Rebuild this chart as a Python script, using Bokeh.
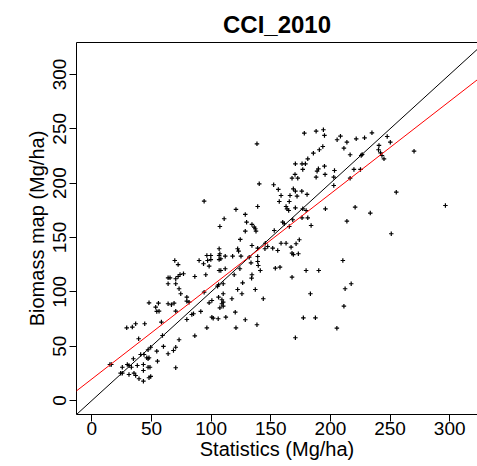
from bokeh.plotting import figure
from bokeh.models import Range1d, FixedTicker, LinearAxis, Slope, ColumnDataSource
from bokeh.embed import file_html
from bokeh.resources import INLINE

# ---- data (Statistics vs Biomass map, Mg/ha) ----
stats_a = [15.1, 16.3, 25.5, 24.1, 25.5, 29.7, 31.1, 33.1, 34.8, 40.9,
           43.7, 47.1, 46.0, 47.1, 47.9, 43.2, 38.1, 31.1, 35.3, 36.7,
           47.1, 48.7, 43.2, 39.5, 43.2, 47.9, 49.3, 70.3, 55.0, 54.4,
           49.3, 60.0, 63.9, 68.4, 70.3, 73.1, 39.2, 59.2, 29.2, 33.9,
           36.7, 44.3, 86.3, 58.3, 70.3, 47.9, 55.8, 53.5, 56.3, 54.4,
           63.9, 68.9, 66.7, 79.6, 79.6, 81.5, 79.6, 83.8, 85.2, 91.3,
           73.1, 74.5, 70.3, 63.9, 63.9, 65.5, 70.3, 72.3, 73.9, 76.8,
           69.5, 72.3, 86.3, 89.9, 93.6, 94.1, 95.5]
map_a = [33.1, 33.1, 30.6, 25.1, 25.1, 33.1, 32.2, 30.6, 38.4, 42.3,
         42.3, 46.7, 39.3, 38.4, 39.3, 33.1, 32.2, 23.9, 25.1, 23.0,
         30.6, 30.6, 27.6, 20.0, 17.8, 20.9, 22.1, 30.1, 36.2, 45.4,
         49.0, 49.7, 43.0, 46.0, 49.0, 55.9, 56.8, 59.8, 66.9, 67.5,
         70.6, 70.6, 59.5, 72.1, 82.2, 89.9, 89.5, 85.9, 82.2, 81.9,
         89.0, 89.5, 88.1, 95.1, 91.4, 90.5, 74.5, 79.1, 79.8, 81.9,
         102.8, 98.2, 107.4, 107.4, 112.9, 112.9, 112.0, 114.1, 115.9, 116.6,
         128.8, 125.1, 114.1, 128.8, 125.8, 99.7, 115.7]

stats_b = [96.4, 99.7, 106.7, 111.8, 118.0, 125.0, 131.9, 139.0, 97.0, 99.7,
           106.7, 108.1, 98.3, 106.7, 108.1, 111.8, 119.3, 139.0, 139.5, 133.4,
           124.1, 134.2, 141.2, 133.9, 153.8, 157.7, 167.8, 179.6, 190.2, 126.4,
           110.1, 106.2, 105.4, 122.2, 125.8, 137.0, 143.7, 110.1, 106.2, 117.4,
           98.3, 100.6, 109.0, 110.1, 109.0, 110.1, 107.3, 120.2, 100.6, 101.7,
           105.9, 112.3, 128.6, 183.2, 177.3, 187.4, 96.4, 120.8, 138.4, 170.6,
           210.4, 217.4, 212.3, 211.3, 205.4, 94.1]
map_b = [133.4, 133.4, 133.4, 132.8, 132.8, 132.8, 131.9, 132.5, 128.8, 129.7,
         129.7, 130.4, 123.6, 119.6, 119.6, 121.2, 115.7, 127.9, 124.2, 126.7,
         121.2, 115.7, 119.6, 112.5, 121.7, 122.7, 113.5, 119.6, 119.6, 108.3,
         107.4, 106.5, 105.2, 102.1, 98.2, 102.1, 93.6, 98.2, 95.1, 93.6,
         89.9, 92.0, 92.7, 90.5, 89.0, 86.8, 85.3, 81.3, 76.7, 75.7,
         75.2, 76.7, 74.3, 98.2, 76.1, 76.1, 66.9, 66.9, 69.7, 57.7,
         128.8, 107.4, 102.8, 86.8, 66.5, 183.4]

stats_c = [178.1, 188.0, 194.1, 195.0, 138.4, 193.6, 190.7, 185.7, 181.0, 170.6,
           176.2, 179.0, 176.8, 170.3, 167.8, 172.6, 188.8, 189.9, 188.0, 195.0,
           195.5, 140.3, 152.4, 156.3, 168.9, 170.6, 176.0, 158.6, 166.1, 172.0,
           180.4, 157.1, 165.5, 162.8, 163.6, 165.0, 170.6, 176.8, 179.6, 195.8,
           139.0, 120.8, 128.6, 110.9, 107.3, 129.7, 134.2, 136.1, 137.0, 137.6,
           128.6, 124.4, 152.9, 160.0, 161.3, 168.4, 176.2, 183.8, 165.5, 134.2,
           145.4, 147.4, 145.1, 151.6, 155.8, 158.6, 162.8, 167.0, 171.2, 173.9,
           167.8, 168.9, 106.7, 107.3, 122.2, 123.0, 139.0, 203.4, 202.8, 202.8,
           173.1, 181.0]
map_c = [246.0, 247.8, 249.1, 243.9, 236.2, 233.7, 230.7, 227.6, 222.4, 217.8,
         217.8, 217.8, 212.6, 208.0, 204.6, 204.6, 211.0, 213.2, 205.5, 215.6,
         208.0, 199.4, 198.5, 194.2, 194.8, 192.6, 192.6, 188.6, 188.6, 188.0,
         189.6, 183.1, 183.1, 178.5, 176.4, 174.8, 177.3, 176.4, 174.8, 176.4,
         178.5, 175.8, 171.2, 167.2, 160.1, 164.1, 162.0, 159.5, 158.0, 155.8,
         155.8, 148.2, 156.4, 164.1, 162.6, 166.3, 168.1, 161.0, 160.1, 142.6,
         144.7, 141.7, 139.6, 140.1, 138.0, 144.7, 144.7, 141.1, 144.2, 147.9,
         135.5, 134.3, 139.6, 135.0, 139.6, 137.4, 140.1, 211.6, 205.5, 197.8,
         135.0, 168.1]

stats_d = [205.6, 208.4, 213.8, 211.3, 221.6, 228.6, 234.8, 247.6, 250.2, 240.7,
           240.3, 242.0, 243.2, 244.9, 225.8, 226.6, 216.5, 219.7, 225.2, 216.5,
           270.1, 255.2, 296.4, 220.7, 233.4, 213.8, 251.0]
map_d = [239.9, 243.2, 237.7, 232.2, 240.8, 241.7, 246.3, 242.9, 237.7, 234.7,
         230.7, 227.9, 225.4, 222.4, 225.4, 226.4, 226.1, 212.6, 212.6, 204.6,
         229.4, 191.7, 179.4, 177.9, 172.4, 165.0, 153.4]

tick_values = [0, 50, 100, 150, 200, 250, 300]
x_limits = (-12.9, 323.3)
y_limits = (-12.9, 329.4)

one_to_one = (0.0, 1.0)          # intercept, slope (black)
fit_line = (19.8, 0.852)         # intercept, slope (red regression)

FONT = "Liberation Sans"

stats = stats_a + stats_b + stats_c + stats_d
biomass = map_a + map_b + map_c + map_d
n = min(len(stats), len(biomass))
src = ColumnDataSource(dict(x=stats[:n], y=biomass[:n]))

p = figure(width=477, height=466,
           x_range=Range1d(*x_limits), y_range=Range1d(*y_limits),
           output_backend="svg", toolbar_location=None,
           min_border_left=76, min_border_right=0,
           min_border_top=42, min_border_bottom=52)

p.background_fill_color = "white"
p.border_fill_color = "white"
p.outline_line_color = None
p.grid.visible = False

p.title.text = "CCI_2010"
p.title.text_font = FONT
p.title.text_font_size = "24px"
p.title.text_font_style = "bold"
p.title.text_color = "black"
p.title.align = "center"

for ax in (p.xaxis[0], p.yaxis[0]):
    ax.ticker = FixedTicker(ticks=tick_values)
    ax.minor_tick_line_color = None
    ax.major_tick_in = 0
    ax.major_tick_out = 7
    ax.major_tick_line_color = "black"
    ax.axis_line_color = "black"
    ax.major_label_text_font = FONT
    ax.major_label_text_font_size = "19px"
    ax.major_label_text_color = "black"
    ax.axis_label_text_font = FONT
    ax.axis_label_text_font_size = "20px"
    ax.axis_label_text_font_style = "normal"
    ax.axis_label_text_color = "black"

p.xaxis.axis_label = "Statistics (Mg/ha)"
p.xaxis.major_label_standoff = 0
p.xaxis.axis_label_standoff = 0

p.yaxis.axis_label = "Biomass map (Mg/ha)"
p.yaxis.major_label_orientation = "vertical"
p.yaxis.major_label_standoff = 3
p.yaxis.axis_label_standoff = 3

top_axis = LinearAxis(ticker=FixedTicker(ticks=[]), major_tick_out=0, major_tick_in=0,
                      minor_tick_line_color=None, major_label_text_font_size="0px",
                      axis_line_color="black", major_label_standoff=0)
p.add_layout(top_axis, "above")

p.add_layout(Slope(gradient=one_to_one[1], y_intercept=one_to_one[0],
                   line_color="black", line_width=1))
p.add_layout(Slope(gradient=fit_line[1], y_intercept=fit_line[0],
                   line_color="red", line_width=1))

p.scatter("x", "y", source=src, marker="cross", size=4.5,
          line_color="black", line_width=1.2)

open("out.html", "w").write(file_html(p, INLINE))
